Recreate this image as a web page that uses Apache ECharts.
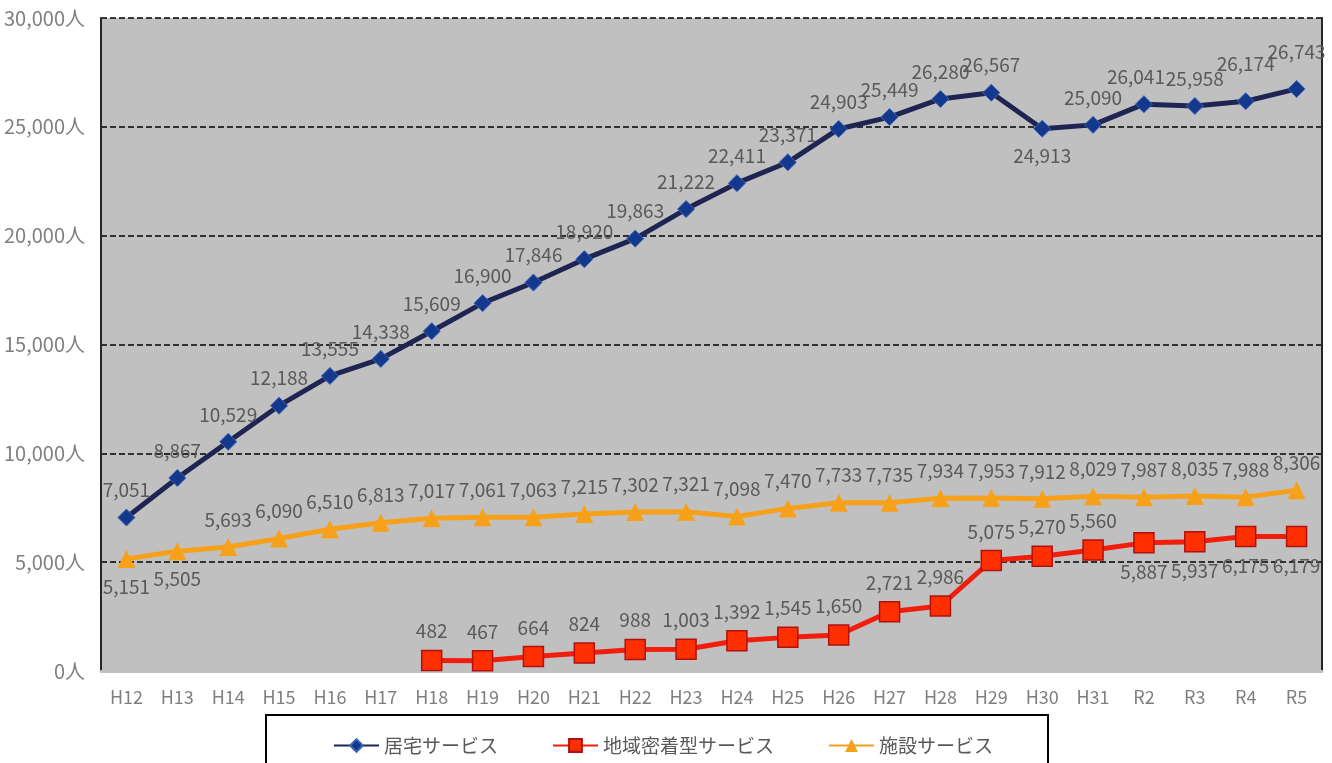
<!DOCTYPE html>
<html>
<head>
<meta charset="utf-8">
<title>サービス利用者数の推移</title>
<script src="https://cdn.jsdelivr.net/npm/echarts@6/dist/echarts.min.js"></script>
<style>
  html, body { margin: 0; padding: 0; background: #fff; }
  #chart { width: 1332px; height: 763px; }
</style>
</head>
<body>
<div id="chart"></div>
<script>
const years = ['H12', 'H13', 'H14', 'H15', 'H16', 'H17', 'H18', 'H19', 'H20', 'H21', 'H22', 'H23',
  'H24', 'H25', 'H26', 'H27', 'H28', 'H29', 'H30', 'H31', 'R2', 'R3', 'R4', 'R5']
const homeService = [7051, 8867, 10529, 12188, 13555, 14338, 15609, 16900, 17846, 18920, 19863, 21222,
  22411, 23371, 24903, 25449, 26280, 26567, 24913, 25090, 26041, 25958, 26174, 26743]
const communityService = [null, null, null, null, null, null, 482, 467, 664, 824, 988, 1003,
  1392, 1545, 1650, 2721, 2986, 5075, 5270, 5560, 5887, 5937, 6175, 6179]
const facilityService = [5151, 5505, 5693, 6090, 6510, 6813, 7017, 7061, 7063, 7215, 7302, 7321,
  7098, 7470, 7733, 7735, 7934, 7953, 7912, 8029, 7987, 8035, 7988, 8306]
const seriesNames = ['居宅サービス', '地域密着型サービス', '施設サービス']

// ラベルを下に出す点
const homeBelow = [18]
const communityBelow = [20, 21, 22, 23]
const facilityBelow = [0, 1]
// 少しずらすラベル (index: [dx, dy])
const homeShift = { 20: [-8, 0], 22: [0, -10], 23: [0, -10] }

const fmt = v => v.toLocaleString('en-US')
const labelBase = { show: true, color: '#595959', fontSize: 19, distance: 9, formatter: p => fmt(p.value) }

function withLabels (values, below, shift) {
  return values.map((v, i) => {
    if (v === null) return null
    const label = {}
    if (below.indexOf(i) >= 0) label.position = 'bottom'
    if (shift && shift[i]) label.offset = shift[i]
    return Object.keys(label).length ? { value: v, label: label } : v
  })
}

const chart = echarts.init(document.getElementById('chart'))
chart.setOption({
  animation: false,
  textStyle: { fontFamily: 'Noto Sans CJK JP' },
  grid: {
    left: 101, right: 10, top: 18, bottom: 92,
    show: true, backgroundColor: '#c0c0c0', borderWidth: 0
  },
  graphic: [{
    type: 'rect', left: 265, top: 714, z: 0,
    shape: { width: 782, height: 60 },
    style: { fill: '#fff', stroke: '#000', lineWidth: 2 }
  }],
  legend: {
    left: 328, top: 731, z: 5,
    itemWidth: 45, itemHeight: 16, itemGap: 54,
    textStyle: { color: '#595959', fontSize: 19 },
    data: seriesNames
  },
  xAxis: [{
    type: 'category', data: years, z: 3,
    axisLine: { show: true, lineStyle: { color: '#c0c0c0', width: 3 } },
    axisTick: { show: false },
    axisLabel: { color: '#7f7f7f', fontSize: 18, margin: 17 }
  }, {
    type: 'category', data: years, position: 'top',
    axisLine: { show: true, lineStyle: { color: '#262626', width: 2 } },
    axisTick: { show: false }, axisLabel: { show: false }
  }],
  yAxis: [{
    type: 'value', min: 0, max: 30000, interval: 5000,
    axisLine: { show: true, lineStyle: { color: '#262626', width: 2 } },
    axisTick: { show: false },
    axisLabel: { color: '#7f7f7f', fontSize: 20, margin: 16, formatter: v => fmt(v) + '人' },
    splitLine: { show: true, lineStyle: { color: '#000', width: 1.6, type: [6, 3] } }
  }, {
    type: 'value', min: 0, max: 30000, interval: 5000, position: 'right',
    axisLine: { show: true, lineStyle: { color: '#262626', width: 2 } },
    axisTick: { show: false }, axisLabel: { show: false }, splitLine: { show: false }
  }],
  series: [{
    name: seriesNames[0], type: 'line', z: 4,
    data: withLabels(homeService, homeBelow, homeShift),
    symbol: 'diamond', symbolSize: 17,
    lineStyle: { color: '#1f2452', width: 5 },
    itemStyle: { color: '#13388c', borderColor: '#3a64b8', borderWidth: 1 },
    label: Object.assign({}, labelBase, { position: 'top' })
  }, {
    name: seriesNames[1], type: 'line', z: 3,
    data: withLabels(communityService, communityBelow),
    symbol: 'rect', symbolSize: 20,
    lineStyle: { color: '#f21d0a', width: 5 },
    itemStyle: { color: '#ff2f00', borderColor: '#b01010', borderWidth: 1.5 },
    label: Object.assign({}, labelBase, { position: 'top' })
  }, {
    name: seriesNames[2], type: 'line', z: 2,
    data: withLabels(facilityService, facilityBelow),
    symbol: 'triangle', symbolSize: 18,
    lineStyle: { color: '#f7a11a', width: 5 },
    itemStyle: { color: '#f7a11a' },
    label: Object.assign({}, labelBase, { position: 'top' })
  }]
})
</script>
</body>
</html>
